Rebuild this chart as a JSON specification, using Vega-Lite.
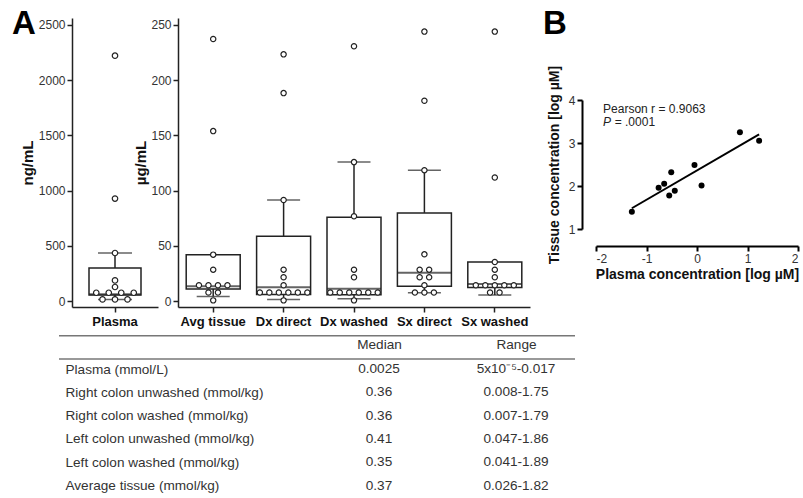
{
  "$schema": "https://vega.github.io/schema/vega-lite/v6.json",
  "width": 803,
  "height": 498,
  "autosize": "none",
  "padding": 0,
  "background": "white",
  "config": {
    "font": "Liberation Sans",
    "view": {"stroke": null},
    "axis": {
      "domainColor": "#222", "tickColor": "#222", "domainWidth": 1.5, "tickWidth": 1.5, "tickSize": 5,
      "labelColor": "#333", "labelFontSize": 12, "labelFont": "Liberation Sans",
      "titleFont": "Liberation Sans", "titleFontSize": 15, "titleFontWeight": "bold", "titleColor": "#111",
      "grid": false
    }
  },
  "datasets": {
    "plasmaBox": [{"group": "Plasma", "low": 15, "q1": 55, "median": 62, "q3": 299, "high": 435}],
    "plasmaPts": [
      {"group": "Plasma", "value": 2222}, {"group": "Plasma", "value": 928}, {"group": "Plasma", "value": 435},
      {"group": "Plasma", "value": 187}, {"group": "Plasma", "value": 127},
      {"group": "Plasma", "value": 75}, {"group": "Plasma", "value": 75}, {"group": "Plasma", "value": 75}, {"group": "Plasma", "value": 75},
      {"group": "Plasma", "value": 15}, {"group": "Plasma", "value": 15}, {"group": "Plasma", "value": 15}
    ],
    "tissueBox": [
      {"group": "Avg tissue", "low": 4.2, "q1": 11, "median": 13.5, "q3": 42, "high": null},
      {"group": "Dx direct", "low": 1.5, "q1": 6, "median": 12.4, "q3": 58.6, "high": 91.5},
      {"group": "Dx washed", "low": 2.1, "q1": 5.7, "median": 11.2, "q3": 75.9, "high": 125.8},
      {"group": "Sx direct", "low": 7.6, "q1": 13.5, "median": 25.7, "q3": 79.8, "high": 118.5},
      {"group": "Sx washed", "low": 5.4, "q1": 12.3, "median": 15.4, "q3": 35.4, "high": null}
    ],
    "tissuePts": [
      {"group": "Avg tissue", "value": 237.3}, {"group": "Avg tissue", "value": 153.9}, {"group": "Avg tissue", "value": 42},
      {"group": "Avg tissue", "value": 28.4}, {"group": "Avg tissue", "value": 14.3}, {"group": "Avg tissue", "value": 14.3},
      {"group": "Avg tissue", "value": 14.3}, {"group": "Avg tissue", "value": 14.3}, {"group": "Avg tissue", "value": 7.7},
      {"group": "Avg tissue", "value": 7.7}, {"group": "Avg tissue", "value": 0.6},
      {"group": "Dx direct", "value": 223.4}, {"group": "Dx direct", "value": 188.3}, {"group": "Dx direct", "value": 91.5},
      {"group": "Dx direct", "value": 28.4}, {"group": "Dx direct", "value": 21.5}, {"group": "Dx direct", "value": 14.3},
      {"group": "Dx direct", "value": 7.7}, {"group": "Dx direct", "value": 7.7}, {"group": "Dx direct", "value": 7.7},
      {"group": "Dx direct", "value": 7.7}, {"group": "Dx direct", "value": 7.7}, {"group": "Dx direct", "value": 7.7},
      {"group": "Dx direct", "value": 0.6},
      {"group": "Dx washed", "value": 230.7}, {"group": "Dx washed", "value": 125.8}, {"group": "Dx washed", "value": 76.8},
      {"group": "Dx washed", "value": 28.4}, {"group": "Dx washed", "value": 21.5}, {"group": "Dx washed", "value": 7.7},
      {"group": "Dx washed", "value": 7.7}, {"group": "Dx washed", "value": 7.7}, {"group": "Dx washed", "value": 7.7},
      {"group": "Dx washed", "value": 7.7}, {"group": "Dx washed", "value": 7.7}, {"group": "Dx washed", "value": 0.6},
      {"group": "Sx direct", "value": 244}, {"group": "Sx direct", "value": 181.4}, {"group": "Sx direct", "value": 118.5},
      {"group": "Sx direct", "value": 42.3}, {"group": "Sx direct", "value": 28.4}, {"group": "Sx direct", "value": 28.4},
      {"group": "Sx direct", "value": 21.5}, {"group": "Sx direct", "value": 21.5}, {"group": "Sx direct", "value": 14.3},
      {"group": "Sx direct", "value": 7.7}, {"group": "Sx direct", "value": 7.7}, {"group": "Sx direct", "value": 7.7},
      {"group": "Sx washed", "value": 244}, {"group": "Sx washed", "value": 111.9}, {"group": "Sx washed", "value": 35.4},
      {"group": "Sx washed", "value": 28.4}, {"group": "Sx washed", "value": 21.5}, {"group": "Sx washed", "value": 14.3},
      {"group": "Sx washed", "value": 14.3}, {"group": "Sx washed", "value": 14.3}, {"group": "Sx washed", "value": 14.3},
      {"group": "Sx washed", "value": 14.3}, {"group": "Sx washed", "value": 7.7}, {"group": "Sx washed", "value": 7.7}
    ],
    "corr": [
      {"px": -1.29, "ty": 1.40}, {"px": -0.76, "ty": 1.96}, {"px": -0.65, "ty": 2.05}, {"px": -0.51, "ty": 2.32},
      {"px": -0.55, "ty": 1.78}, {"px": -0.44, "ty": 1.89}, {"px": -0.05, "ty": 2.49}, {"px": 0.09, "ty": 2.01},
      {"px": 0.85, "ty": 3.25}, {"px": 1.23, "ty": 3.05}
    ],
    "table": [
      {"row": "Plasma (mmol/L)", "median": "0.0025", "range": "5x10⁻⁵-0.017"},
      {"row": "Right colon unwashed (mmol/kg)", "median": "0.36", "range": "0.008-1.75"},
      {"row": "Right colon washed (mmol/kg)", "median": "0.36", "range": "0.007-1.79"},
      {"row": "Left colon unwashed (mmol/kg)", "median": "0.41", "range": "0.047-1.86"},
      {"row": "Left colon washed (mmol/kg)", "median": "0.35", "range": "0.041-1.89"},
      {"row": "Average tissue (mmol/kg)", "median": "0.37", "range": "0.026-1.82"}
    ],
    "tableLines": [{"line": "top"}, {"line": "header"}],
    "letters": [{"p": "A"}, {"p": "B"}]
  },
  "layer": [
    {
      "encoding": {
        "x": {"field": "group", "type": "nominal", "sort": null,
          "scale": {"type": "band", "domain": ["Plasma"], "range": [72, 158], "paddingInner": 0, "paddingOuter": 0},
          "axis": {"orient": "bottom", "offset": -191, "title": null, "labelAngle": 0, "labelFontWeight": "bold", "labelFontSize": 13, "labelColor": "#111", "labelPadding": 3, "labelOverlap": false}}
      },
      "layer": [
        {"data": {"name": "plasmaBox"}, "mark": {"type": "rule", "color": "#222", "strokeWidth": 1.5},
         "encoding": {"y": {"field": "q3", "type": "quantitative", "scale": {"domain": [-54, 2563], "range": [307, 18], "nice": false, "zero": false},
           "axis": {"orient": "left", "offset": -72, "values": [0, 500, 1000, 1500, 2000, 2500], "format": "d", "title": "ng/mL", "labelPadding": 2, "titlePadding": 3}},
           "y2": {"field": "high"}}},
        {"data": {"name": "plasmaBox"}, "mark": {"type": "rule", "color": "#222", "strokeWidth": 1.5},
         "encoding": {"y": {"field": "low", "type": "quantitative", "scale": {"domain": [-54, 2563], "range": [307, 18], "nice": false, "zero": false},
           "axis": {"orient": "left", "offset": -72, "values": [0, 500, 1000, 1500, 2000, 2500], "format": "d", "title": "ng/mL", "labelPadding": 2, "titlePadding": 3}}, "y2": {"field": "q1"}}},
        {"data": {"name": "plasmaBox"}, "mark": {"type": "tick", "color": "#222", "size": 34, "thickness": 1.5},
         "encoding": {"y": {"field": "high", "type": "quantitative", "scale": {"domain": [-54, 2563], "range": [307, 18], "nice": false, "zero": false},
           "axis": {"orient": "left", "offset": -72, "values": [0, 500, 1000, 1500, 2000, 2500], "format": "d", "title": "ng/mL", "labelPadding": 2, "titlePadding": 3}}}},
        {"data": {"name": "plasmaBox"}, "mark": {"type": "tick", "color": "#222", "size": 34, "thickness": 1.5},
         "encoding": {"y": {"field": "low", "type": "quantitative", "scale": {"domain": [-54, 2563], "range": [307, 18], "nice": false, "zero": false},
           "axis": {"orient": "left", "offset": -72, "values": [0, 500, 1000, 1500, 2000, 2500], "format": "d", "title": "ng/mL", "labelPadding": 2, "titlePadding": 3}}}},
        {"data": {"name": "plasmaBox"}, "mark": {"type": "bar", "fill": "white", "stroke": "#222", "strokeWidth": 1.5, "width": 52},
         "encoding": {"y": {"field": "q1", "type": "quantitative", "scale": {"domain": [-54, 2563], "range": [307, 18], "nice": false, "zero": false},
           "axis": {"orient": "left", "offset": -72, "values": [0, 500, 1000, 1500, 2000, 2500], "format": "d", "title": "ng/mL", "labelPadding": 2, "titlePadding": 3}}, "y2": {"field": "q3"}}},
        {"data": {"name": "plasmaBox"}, "mark": {"type": "tick", "color": "#222", "size": 52, "thickness": 2},
         "encoding": {"y": {"field": "median", "type": "quantitative", "scale": {"domain": [-54, 2563], "range": [307, 18], "nice": false, "zero": false},
           "axis": {"orient": "left", "offset": -72, "values": [0, 500, 1000, 1500, 2000, 2500], "format": "d", "title": "ng/mL", "labelPadding": 2, "titlePadding": 3}}}},
        {"data": {"name": "plasmaPts"},
         "transform": [
           {"window": [{"op": "row_number", "as": "rn"}, {"op": "count", "as": "n"}], "groupby": ["group", "value"], "frame": [null, null]},
           {"calculate": "datum.rn - (datum.n + 1) / 2", "as": "slot"}
         ],
         "mark": {"type": "point", "shape": "circle", "filled": true, "fill": "white", "stroke": "#222", "strokeWidth": 1.2, "size": 30, "opacity": 1},
         "encoding": {
           "xOffset": {"field": "slot", "type": "quantitative", "scale": {"domain": [-3.44, 3.44], "range": [0, 86]}},
           "y": {"field": "value", "type": "quantitative", "scale": {"domain": [-54, 2563], "range": [307, 18], "nice": false, "zero": false},
             "axis": {"orient": "left", "offset": -72, "values": [0, 500, 1000, 1500, 2000, 2500], "format": "d", "title": "ng/mL", "labelPadding": 2, "titlePadding": 3}}}}
      ]
    },
    {
      "encoding": {
        "x": {"field": "group", "type": "nominal", "sort": null,
          "scale": {"type": "band", "domain": ["Avg tissue", "Dx direct", "Dx washed", "Sx direct", "Sx washed"], "range": [178, 530], "paddingInner": 0, "paddingOuter": 0},
          "axis": {"orient": "bottom", "offset": -191, "title": null, "labelAngle": 0, "labelFontWeight": "bold", "labelFontSize": 13, "labelColor": "#111", "labelPadding": 3, "labelOverlap": false}}
      },
      "layer": [
        {"data": {"name": "tissueBox"}, "mark": {"type": "rule", "color": "#222", "strokeWidth": 1.5},
         "encoding": {"y": {"field": "q3", "type": "quantitative", "scale": {"domain": [-5.4, 256.3], "range": [307, 18], "nice": false, "zero": false},
           "axis": {"orient": "left", "offset": -178, "values": [0, 50, 100, 150, 200, 250], "title": "µg/mL", "labelPadding": 2, "titlePadding": 2}},
           "y2": {"field": "high"}}},
        {"data": {"name": "tissueBox"}, "mark": {"type": "rule", "color": "#222", "strokeWidth": 1.5},
         "encoding": {"y": {"field": "low", "type": "quantitative", "scale": {"domain": [-5.4, 256.3], "range": [307, 18], "nice": false, "zero": false},
           "axis": {"orient": "left", "offset": -178, "values": [0, 50, 100, 150, 200, 250], "title": "µg/mL", "labelPadding": 2, "titlePadding": 2}}, "y2": {"field": "q1"}}},
        {"data": {"name": "tissueBox"}, "mark": {"type": "tick", "color": "#222", "size": 33, "thickness": 1.5},
         "encoding": {"y": {"field": "high", "type": "quantitative", "scale": {"domain": [-5.4, 256.3], "range": [307, 18], "nice": false, "zero": false},
           "axis": {"orient": "left", "offset": -178, "values": [0, 50, 100, 150, 200, 250], "title": "µg/mL", "labelPadding": 2, "titlePadding": 2}}}},
        {"data": {"name": "tissueBox"}, "mark": {"type": "tick", "color": "#222", "size": 33, "thickness": 1.5},
         "encoding": {"y": {"field": "low", "type": "quantitative", "scale": {"domain": [-5.4, 256.3], "range": [307, 18], "nice": false, "zero": false},
           "axis": {"orient": "left", "offset": -178, "values": [0, 50, 100, 150, 200, 250], "title": "µg/mL", "labelPadding": 2, "titlePadding": 2}}}},
        {"data": {"name": "tissueBox"}, "mark": {"type": "bar", "fill": "white", "stroke": "#222", "strokeWidth": 1.5, "width": 54},
         "encoding": {"y": {"field": "q1", "type": "quantitative", "scale": {"domain": [-5.4, 256.3], "range": [307, 18], "nice": false, "zero": false},
           "axis": {"orient": "left", "offset": -178, "values": [0, 50, 100, 150, 200, 250], "title": "µg/mL", "labelPadding": 2, "titlePadding": 2}}, "y2": {"field": "q3"}}},
        {"data": {"name": "tissueBox"}, "mark": {"type": "tick", "color": "#222", "size": 54, "thickness": 2},
         "encoding": {"y": {"field": "median", "type": "quantitative", "scale": {"domain": [-5.4, 256.3], "range": [307, 18], "nice": false, "zero": false},
           "axis": {"orient": "left", "offset": -178, "values": [0, 50, 100, 150, 200, 250], "title": "µg/mL", "labelPadding": 2, "titlePadding": 2}}}},
        {"data": {"name": "tissuePts"},
         "transform": [
           {"window": [{"op": "row_number", "as": "rn"}, {"op": "count", "as": "n"}], "groupby": ["group", "value"], "frame": [null, null]},
           {"calculate": "datum.rn - (datum.n + 1) / 2", "as": "slot"}
         ],
         "mark": {"type": "point", "shape": "circle", "filled": true, "fill": "white", "stroke": "#222", "strokeWidth": 1.2, "size": 28, "opacity": 1},
         "encoding": {
           "xOffset": {"field": "slot", "type": "quantitative", "scale": {"domain": [-3.705, 3.705], "range": [0, 70.4]}},
           "y": {"field": "value", "type": "quantitative", "scale": {"domain": [-5.4, 256.3], "range": [307, 18], "nice": false, "zero": false},
             "axis": {"orient": "left", "offset": -178, "values": [0, 50, 100, 150, 200, 250], "title": "µg/mL", "labelPadding": 2, "titlePadding": 2}}}}
      ]
    },
    {
      "layer": [
        {"data": {"name": "corr"}, "transform": [{"regression": "ty", "on": "px"}],
         "mark": {"type": "line", "color": "#000", "strokeWidth": 2},
         "encoding": {
           "x": {"field": "px", "type": "quantitative", "scale": {"domain": [-2, 2], "range": [596, 798], "nice": false, "zero": false},
             "axis": {"orient": "bottom", "offset": -252, "values": [-2, -1, 0, 1, 2], "labelExpr": "'' + datum.value", "title": "Plasma concentration [log µM]", "titleFontSize": 14, "domainWidth": 2, "tickWidth": 2, "domainColor": "#000", "tickColor": "#000", "labelPadding": 2, "titlePadding": 3}},
           "y": {"field": "ty", "type": "quantitative", "scale": {"domain": [1, 4], "range": [229, 100], "nice": false, "zero": false},
             "axis": {"orient": "left", "offset": -582, "values": [1, 2, 3, 4], "title": "Tissue concentration [log µM]", "titleFontSize": 14, "domainWidth": 2, "tickWidth": 2, "domainColor": "#000", "tickColor": "#000", "labelPadding": 2, "titlePadding": 7}}}},
        {"data": {"name": "corr"},
         "mark": {"type": "circle", "color": "#000", "size": 36, "opacity": 1},
         "encoding": {
           "x": {"field": "px", "type": "quantitative", "scale": {"domain": [-2, 2], "range": [596, 798], "nice": false, "zero": false},
             "axis": {"orient": "bottom", "offset": -252, "values": [-2, -1, 0, 1, 2], "labelExpr": "'' + datum.value", "title": "Plasma concentration [log µM]", "titleFontSize": 14, "domainWidth": 2, "tickWidth": 2, "domainColor": "#000", "tickColor": "#000", "labelPadding": 2, "titlePadding": 3}},
           "y": {"field": "ty", "type": "quantitative", "scale": {"domain": [1, 4], "range": [229, 100], "nice": false, "zero": false},
             "axis": {"orient": "left", "offset": -582, "values": [1, 2, 3, 4], "title": "Tissue concentration [log µM]", "titleFontSize": 14, "domainWidth": 2, "tickWidth": 2, "domainColor": "#000", "tickColor": "#000", "labelPadding": 2, "titlePadding": 7}}}},
        {"data": {"values": [{"t": "Pearson r = 0.9063", "px": -1.86, "ty": 3.79}]},
         "mark": {"type": "text", "align": "left", "baseline": "middle", "fontSize": 12, "color": "#222"},
         "encoding": {
           "x": {"field": "px", "type": "quantitative", "scale": {"domain": [-2, 2], "range": [596, 798], "nice": false, "zero": false},
             "axis": {"orient": "bottom", "offset": -252, "values": [-2, -1, 0, 1, 2], "labelExpr": "'' + datum.value", "title": "Plasma concentration [log µM]", "titleFontSize": 14, "domainWidth": 2, "tickWidth": 2, "domainColor": "#000", "tickColor": "#000", "labelPadding": 2, "titlePadding": 3}},
           "y": {"field": "ty", "type": "quantitative", "scale": {"domain": [1, 4], "range": [229, 100], "nice": false, "zero": false},
             "axis": {"orient": "left", "offset": -582, "values": [1, 2, 3, 4], "title": "Tissue concentration [log µM]", "titleFontSize": 14, "domainWidth": 2, "tickWidth": 2, "domainColor": "#000", "tickColor": "#000", "labelPadding": 2, "titlePadding": 7}},
           "text": {"field": "t"}}},
        {"data": {"values": [{"t": "P", "px": -1.86, "ty": 3.48}]},
         "mark": {"type": "text", "align": "left", "baseline": "middle", "fontSize": 12, "fontStyle": "italic", "color": "#222"},
         "encoding": {
           "x": {"field": "px", "type": "quantitative", "scale": {"domain": [-2, 2], "range": [596, 798], "nice": false, "zero": false},
             "axis": {"orient": "bottom", "offset": -252, "values": [-2, -1, 0, 1, 2], "labelExpr": "'' + datum.value", "title": "Plasma concentration [log µM]", "titleFontSize": 14, "domainWidth": 2, "tickWidth": 2, "domainColor": "#000", "tickColor": "#000", "labelPadding": 2, "titlePadding": 3}},
           "y": {"field": "ty", "type": "quantitative", "scale": {"domain": [1, 4], "range": [229, 100], "nice": false, "zero": false},
             "axis": {"orient": "left", "offset": -582, "values": [1, 2, 3, 4], "title": "Tissue concentration [log µM]", "titleFontSize": 14, "domainWidth": 2, "tickWidth": 2, "domainColor": "#000", "tickColor": "#000", "labelPadding": 2, "titlePadding": 7}},
           "text": {"field": "t"}}},
        {"data": {"values": [{"t": "= .0001", "px": -1.63, "ty": 3.48}]},
         "mark": {"type": "text", "align": "left", "baseline": "middle", "fontSize": 12, "color": "#222"},
         "encoding": {
           "x": {"field": "px", "type": "quantitative", "scale": {"domain": [-2, 2], "range": [596, 798], "nice": false, "zero": false},
             "axis": {"orient": "bottom", "offset": -252, "values": [-2, -1, 0, 1, 2], "labelExpr": "'' + datum.value", "title": "Plasma concentration [log µM]", "titleFontSize": 14, "domainWidth": 2, "tickWidth": 2, "domainColor": "#000", "tickColor": "#000", "labelPadding": 2, "titlePadding": 3}},
           "y": {"field": "ty", "type": "quantitative", "scale": {"domain": [1, 4], "range": [229, 100], "nice": false, "zero": false},
             "axis": {"orient": "left", "offset": -582, "values": [1, 2, 3, 4], "title": "Tissue concentration [log µM]", "titleFontSize": 14, "domainWidth": 2, "tickWidth": 2, "domainColor": "#000", "tickColor": "#000", "labelPadding": 2, "titlePadding": 7}},
           "text": {"field": "t"}}}
      ]
    },
    {
      "data": {"name": "table"},
      "encoding": {
        "y": {"field": "row", "type": "nominal", "sort": null,
          "scale": {"type": "point", "domain": ["Plasma (mmol/L)", "Right colon unwashed (mmol/kg)", "Right colon washed (mmol/kg)", "Left colon unwashed (mmol/kg)", "Left colon washed (mmol/kg)", "Average tissue (mmol/kg)"], "range": [369, 485.5], "padding": 0},
          "axis": {"orient": "left", "offset": -65, "title": null, "domain": false, "ticks": false, "tickSize": 0, "labelPadding": 0, "labelAlign": "left", "labelBaseline": "middle", "labelFontSize": 13.6, "labelColor": "#333", "labelLimit": 0, "labelOverlap": false}}
      },
      "layer": [
        {"mark": {"type": "text", "align": "center", "baseline": "middle", "fontSize": 13.6, "color": "#333"},
         "encoding": {
           "x": {"datum": "Median", "type": "nominal", "scale": {"type": "point", "domain": ["Median", "Range"], "range": [379, 516], "padding": 0},
             "axis": {"orient": "top", "offset": -351, "title": null, "domain": false, "ticks": false, "tickSize": 0, "labelPadding": 0, "labelFontSize": 13.6, "labelColor": "#333", "labelAngle": 0, "labelOverlap": false}},
           "text": {"field": "median"}}},
        {"mark": {"type": "text", "align": "center", "baseline": "middle", "fontSize": 13.6, "color": "#333"},
         "encoding": {
           "x": {"datum": "Range", "type": "nominal", "scale": {"type": "point", "domain": ["Median", "Range"], "range": [379, 516], "padding": 0},
             "axis": {"orient": "top", "offset": -351, "title": null, "domain": false, "ticks": false, "tickSize": 0, "labelPadding": 0, "labelFontSize": 13.6, "labelColor": "#333", "labelAngle": 0, "labelOverlap": false}},
           "text": {"field": "range"}}}
      ]
    },
    {
      "data": {"name": "tableLines"},
      "mark": {"type": "rule", "color": "#777", "strokeWidth": 1.5},
      "encoding": {
        "x": {"datum": 0, "type": "quantitative", "scale": {"domain": [0, 1], "range": [59, 575], "nice": false, "zero": false}, "axis": null},
        "x2": {"datum": 1},
        "y": {"field": "line", "type": "nominal", "scale": {"type": "point", "domain": ["top", "header"], "range": [335.7, 359], "padding": 0}, "axis": null}
      }
    },
    {
      "data": {"name": "letters"},
      "mark": {"type": "text", "align": "center", "baseline": "alphabetic", "fontSize": 33, "fontWeight": "bold", "color": "#000"},
      "encoding": {
        "x": {"field": "p", "type": "nominal", "scale": {"type": "point", "domain": ["A", "B"], "range": [24, 555], "padding": 0}, "axis": null},
        "y": {"datum": 0, "type": "quantitative", "scale": {"domain": [0, 1], "range": [34, 0], "nice": false, "zero": false}, "axis": null},
        "text": {"field": "p"}
      }
    }
  ],
  "resolve": {
    "scale": {"x": "independent", "y": "independent", "xOffset": "independent"},
    "axis": {"x": "independent", "y": "independent"}
  }
}
